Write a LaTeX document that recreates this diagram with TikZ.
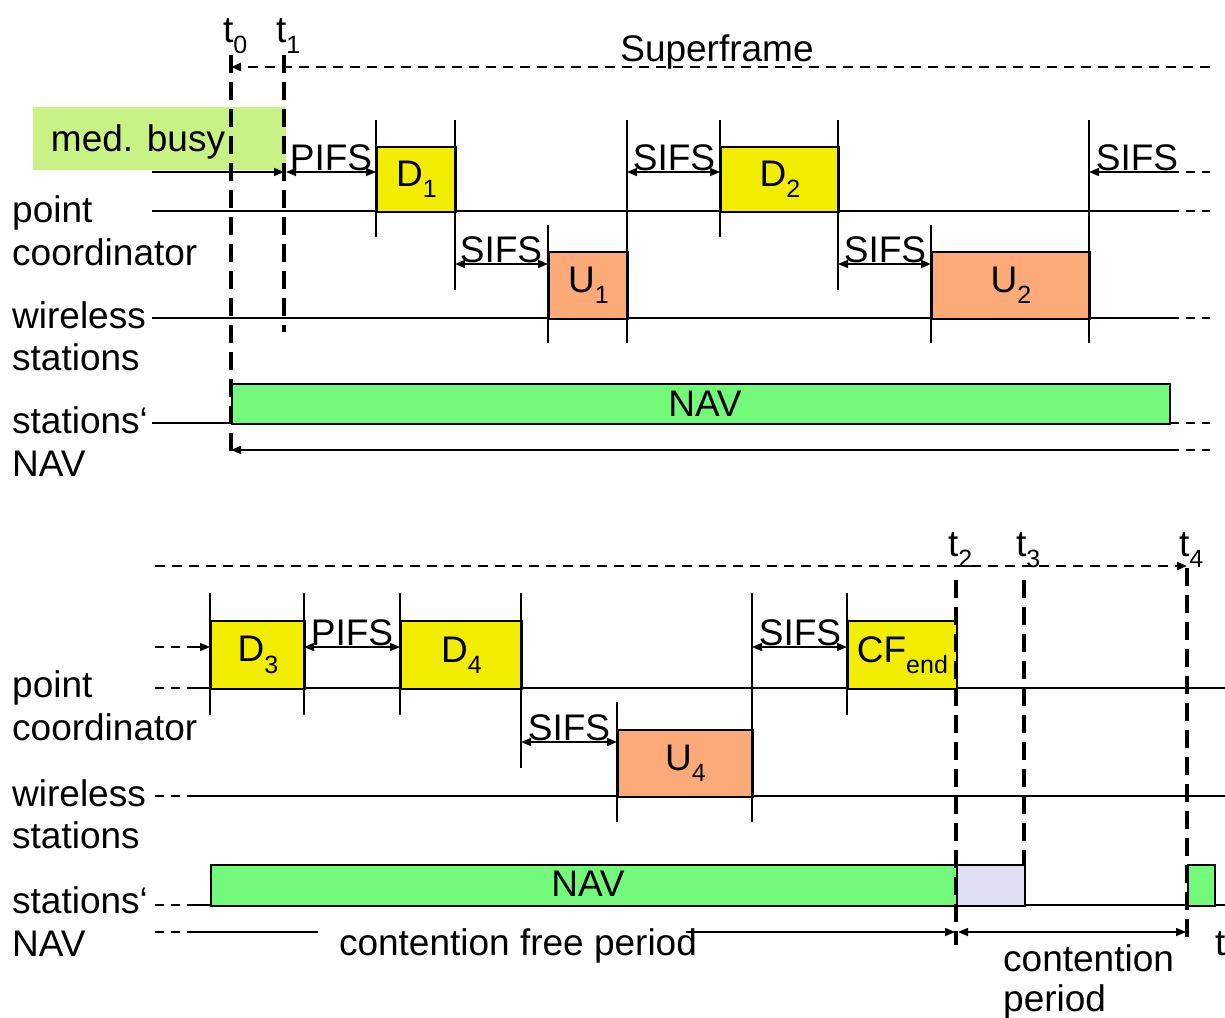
\documentclass[tikz,border=0pt]{standalone}
\usepackage{fontspec}
\setmainfont{Liberation Sans}
\usetikzlibrary{arrows.meta}
\definecolor{dyellow}{RGB}{243,238,0}
\definecolor{uorange}{RGB}{252,170,120}
\definecolor{navgreen}{RGB}{116,250,122}
\definecolor{busygreen}{RGB}{200,242,133}
\definecolor{cplav}{RGB}{224,224,245}
\newcommand\lo[1]{\raisebox{-0.3em}{\fontsize{25}{25}\selectfont #1}}
\begin{document}
\begin{tikzpicture}[x=1pt,y=-1pt,
  font=\fontsize{37}{42}\selectfont,
  >={Triangle[length=10pt,width=8pt]},
  axis/.style={line width=1.8pt},
  tick/.style={line width=1.4pt},
  tmark/.style={line width=3.6pt,dash pattern=on 18pt off 9pt},
  sframe/.style={line width=2.2pt,dash pattern=on 10pt off 7pt},
  tail/.style={line width=1.6pt,dash pattern=on 9pt off 7pt},
  gap/.style={line width=1.5pt,<->},
  frame/.style={draw,line width=1.8pt,inner sep=0pt,anchor=north west},
  dbox/.style={frame,fill=dyellow},
  ubox/.style={frame,fill=uorange},
  nbox/.style={frame,fill=navgreen},
  lbl/.style={anchor=base west,inner sep=0pt},
  gaptxt/.style={anchor=base,inner sep=0pt}]
\useasboundingbox (0,0) rectangle (1225,1017);

% ---------------- upper part ----------------
\node[fill=busygreen,minimum width=253pt,minimum height=63pt,inner sep=0pt,anchor=north west] (busy) at (33,107) {};
\node[anchor=base,inner sep=0pt] (busytxt) at (138,151) {med. busy};

% time axes
\draw[axis] (152,211) -- (1170,211);
\draw[tail] (1170,211) -- (1210,211);
\draw[axis] (152,318) -- (1170,318);
\draw[tail] (1170,318) -- (1210,318);
\draw[axis] (152,423) -- (1170,423);
\draw[tail] (1170,423) -- (1210,423);

% frames
\node[dbox,minimum width=79pt,minimum height=65pt] (d1) at (376,146) {D\lo{1}};
\node[ubox,minimum width=79pt,minimum height=67pt] (u1) at (548,251) {U\lo{1}};
\node[dbox,minimum width=118pt,minimum height=65pt] (d2) at (720,146) {D\lo{2}};
\node[ubox,minimum width=158pt,minimum height=67pt] (u2) at (931,251) {U\lo{2}};
\node[nbox,minimum width=938pt,minimum height=40pt] (nav1) at (231,383) {};
\node[inner sep=0pt] at (705,404) {NAV};

% ticks
\foreach \x/\a/\b in {376/120/237,455/120/290,548/225/343,627/120/343,
                      720/120/237,838/120/290,931/225/343,1089/120/343}
  \draw[tick] (\x,\a) -- (\x,\b);

% interframe spaces
\draw[line width=1.5pt,->] (152,172) -- (284,172);
\draw[gap] (286,172) -- (376,172);
\node[gaptxt] at (331,170) {PIFS};
\draw[gap] (455,264) -- (548,264);
\node[gaptxt] at (501,262) {SIFS};
\draw[gap] (627,172) -- (720,172);
\node[gaptxt] at (674,170) {SIFS};
\draw[gap] (838,264) -- (931,264);
\node[gaptxt] at (885,262) {SIFS};
\draw[line width=1.5pt,->] (1170,172) -- (1089,172);
\draw[tail] (1170,172) -- (1210,172);
\node[gaptxt] at (1137,170) {SIFS};

% NAV duration
\draw[line width=1.6pt,->] (1170,450) -- (231,450);
\draw[tail] (1170,450) -- (1210,450);

% superframe and time marks
\draw[sframe,->] (1210,67) -- (231,67);
\node[gaptxt] at (717,61) {Superframe};
\draw[tmark] (231,55) -- (231,452);
\draw[tmark] (284,55) -- (284,332);
\node[lbl] (t0) at (223,42) {t\lo{0}};
\node[lbl] (t1) at (276,42) {t\lo{1}};

% row labels
\node[lbl] at (12,222) {point};
\node[lbl] at (12,265) {coordinator};
\node[lbl] at (12,328) {wireless};
\node[lbl] at (12,370) {stations};
\node[lbl] at (12,433) {stations‘};
\node[lbl] at (12,476) {NAV};

% ---------------- lower part ----------------
\draw[sframe,->] (155,566) -- (1187,566);

\draw[tail] (155,647) -- (195,647);
\draw[line width=1.5pt,->] (195,647) -- (210,647);
\draw[tail] (155,688) -- (195,688);
\draw[axis] (195,688) -- (1225,688);
\draw[tail] (155,796) -- (195,796);
\draw[axis] (195,796) -- (1225,796);
\draw[tail] (155,905) -- (195,905);
\draw[axis] (195,905) -- (1225,905);

\node[dbox,minimum width=94pt,minimum height=68pt] (d3) at (210,620) {D\lo{3}};
\node[dbox,minimum width=121pt,minimum height=68pt] (d4) at (400,620) {D\lo{4}};
\node[ubox,minimum width=135pt,minimum height=67pt] (u4) at (617,729) {U\lo{4}};
\node[dbox,minimum width=109pt,minimum height=68pt] (cf) at (847,620) {CF\lo{end}};
\node[nbox,minimum width=746pt,minimum height=41pt] (nav2) at (210,864) {};
\node[inner sep=0pt] at (588,884) {NAV};
\node[frame,fill=cplav,minimum width=68pt,minimum height=41pt] (cp) at (956,864) {};
\node[nbox,minimum width=27pt,minimum height=41pt] (nav3) at (1187,864) {};

\foreach \x/\a/\b in {210/593/715,304/593/715,400/593/715,521/593/768,
                      617/702/822,752/593/822,847/593/715}
  \draw[tick] (\x,\a) -- (\x,\b);

\draw[gap] (304,647) -- (400,647);
\node[gaptxt] at (352,645) {PIFS};
\draw[gap] (521,742) -- (617,742);
\node[gaptxt] at (569,740) {SIFS};
\draw[gap] (752,647) -- (847,647);
\node[gaptxt] at (800,645) {SIFS};

% periods
\draw[tail] (155,932) -- (195,932);
\draw[line width=1.5pt] (195,932) -- (318,932);
\draw[line width=1.5pt,->] (686,932) -- (955,932);
\draw[gap] (958,932) -- (1186,932);
\node[gaptxt] at (518,955) {contention free period};
\node[lbl] at (1003,971) {contention};
\node[lbl] at (1003,1011) {period};
\node[lbl] at (1215,955) {t};

% time marks
\draw[tmark] (956,580) -- (956,945);
\draw[tmark] (1024,580) -- (1024,864);
\draw[tmark] (1187,568) -- (1187,945);
\node[lbl] (t2) at (948,556) {t\lo{2}};
\node[lbl] (t3) at (1016,556) {t\lo{3}};
\node[lbl] (t4) at (1179,556) {t\lo{4}};

\node[lbl] at (12,697) {point};
\node[lbl] at (12,740) {coordinator};
\node[lbl] at (12,806) {wireless};
\node[lbl] at (12,848) {stations};
\node[lbl] at (12,913) {stations‘};
\node[lbl] at (12,956) {NAV};
\end{tikzpicture}
\end{document}
